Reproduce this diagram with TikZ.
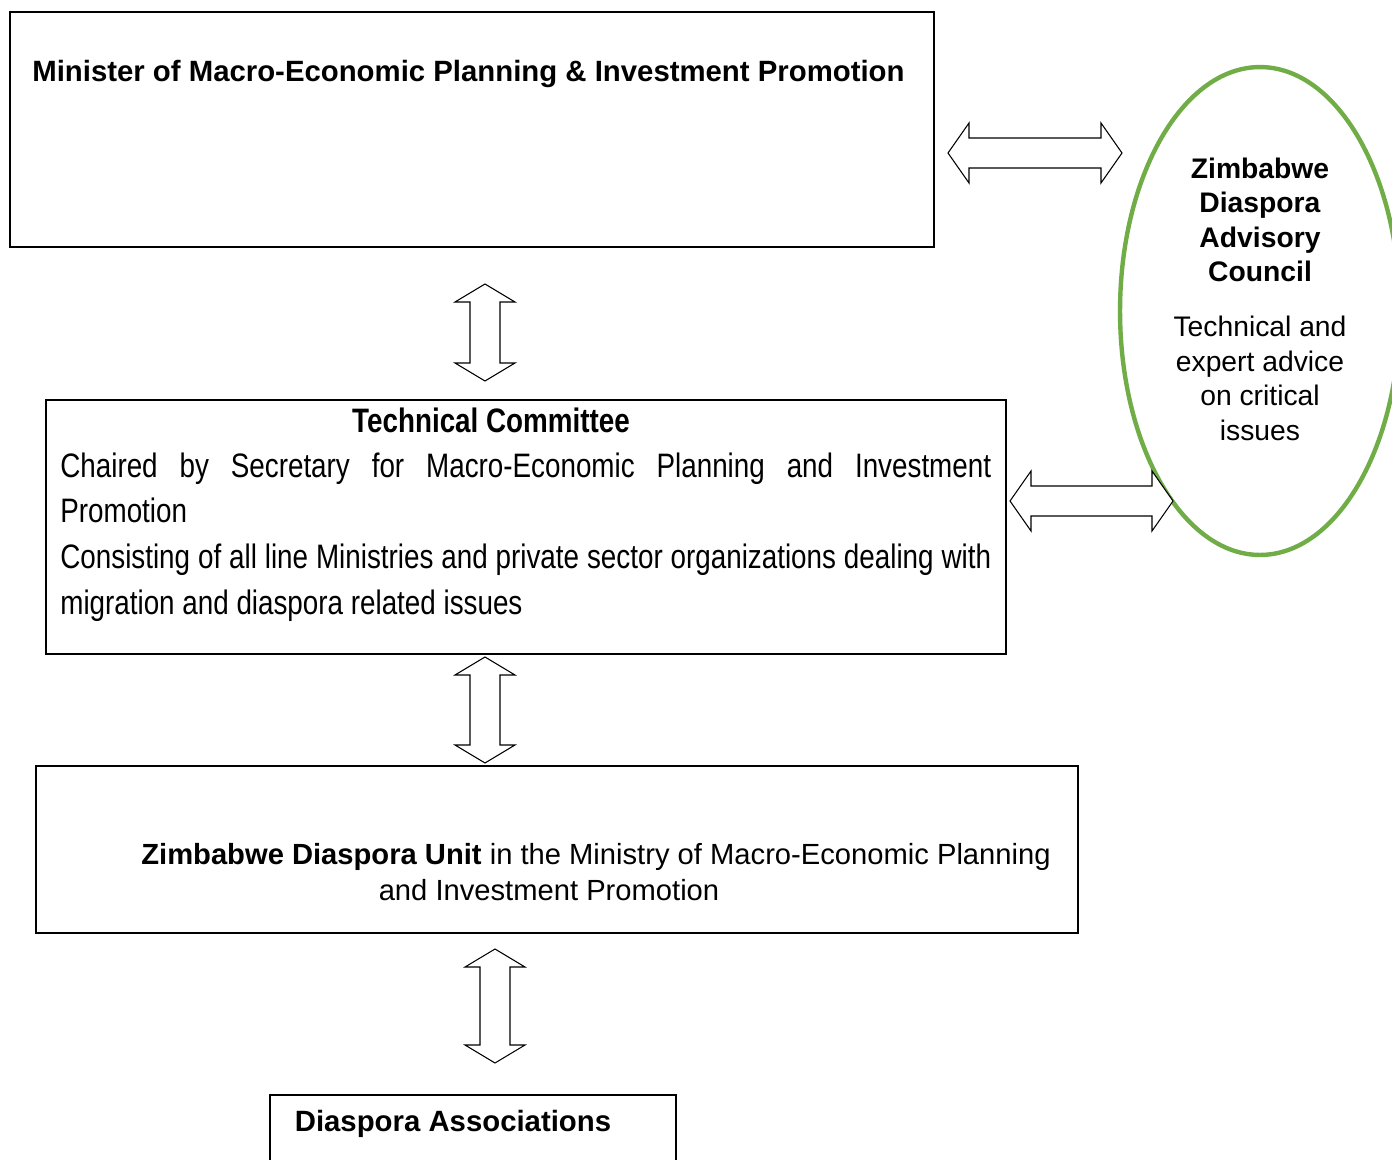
\documentclass[tikz,border=0pt]{standalone}
\usepackage{fontspec}
\setmainfont{Liberation Sans}
\newfontfamily\narrowfont[FakeStretch=0.82]{Liberation Sans}
\usetikzlibrary{fit,shapes.geometric}

\definecolor{councilgreen}{HTML}{70AD47}

\tikzset{
  box/.style={draw, line width=0.85pt, inner sep=0pt},
  blockarrow/.style={draw, fill=white, line width=0.6pt, line join=miter},
  txt/.style={inner sep=0pt, font=\fontsize{16.6}{19.7}\selectfont},
  btxt/.style={inner sep=0pt, font=\fontsize{16.7}{19.7}\selectfont\bfseries},
}

% two-way block arrows, h = head length
\newcommand{\harrow}[3]{% x1, x2, y
  \def\h{21}
  \draw[blockarrow] (#1,#3) -- (#1+\h,#3-30) -- (#1+\h,#3-15) -- (#2-\h,#3-15)
    -- (#2-\h,#3-30) -- (#2,#3) -- (#2-\h,#3+30) -- (#2-\h,#3+15)
    -- (#1+\h,#3+15) -- (#1+\h,#3+30) -- cycle;}
\newcommand{\varrow}[3]{% x, y1, y2
  \def\h{18}
  \draw[blockarrow] (#1,#2) -- (#1+30,#2+\h) -- (#1+15,#2+\h) -- (#1+15,#3-\h)
    -- (#1+30,#3-\h) -- (#1,#3) -- (#1-30,#3-\h) -- (#1-15,#3-\h)
    -- (#1-15,#2+\h) -- (#1-30,#2+\h) -- cycle;}

\begin{document}
\begin{tikzpicture}[x=0.02cm, y=-0.02cm]
  \useasboundingbox[fill=white] (0,0) rectangle (1392,1159);

  % boxes
  \node[box, fit={(10,12) (934,247)}] (minister) {};
  \node[box, fit={(46,400) (1006,654)}] (tech) {};
  \node[box, fit={(36,766) (1078,933)}] (unit) {};
  \node[box, fit={(270,1095) (676,1180)}] (assoc) {};
  \node[draw=councilgreen, line width=2.5pt, ellipse, inner sep=0pt,
        minimum width=5.6cm, minimum height=9.76cm] (council) at (1260,311) {};

  % texts
  \node[btxt, anchor=base west] (ministerT) at (32,82)
    {Minister of Macro-Economic Planning \& Investment Promotion};
  \node[txt, align=center, font=\fontsize{16.1}{19.6}\selectfont] (councilT) at (1260,299)
    {\textbf{Zimbabwe}\\\textbf{Diaspora}\\\textbf{Advisory}\\\textbf{Council}\\[11.8pt]
     Technical and\\expert advice\\on critical\\issues};
  \node[inner sep=0pt, anchor=base, font=\narrowfont\bfseries\fontsize{19.3}{26.1}\selectfont]
    (techT) at (491,432) {Technical Committee};
  \node[inner sep=0pt, anchor=base west, text width=18.62cm, align=justify,
        font=\narrowfont\fontsize{19.3}{26.1}\selectfont] (techB) at (60,477)
    {Chaired by Secretary for Macro-Economic Planning and Investment\linebreak
     Promotion\par
     Consisting of all line Ministries and private sector organizations dealing with\linebreak
     migration and diaspora related issues};
  \node[txt, align=center, font=\fontsize{16.6}{20.4}\selectfont] (unitT) at (549,872)
    {\hspace*{1.88cm}\textbf{Zimbabwe Diaspora Unit} in the Ministry of Macro-Economic Planning\\
     and Investment Promotion};
  \node[btxt] (assocT) at (453,1124) {Diaspora Associations};

  % arrows
  \harrow{948}{1122}{153}
  \varrow{485}{284}{381}
  \harrow{1010}{1173}{501}
  \varrow{485}{657}{763}
  \varrow{495}{949}{1063}
\end{tikzpicture}
\end{document}
